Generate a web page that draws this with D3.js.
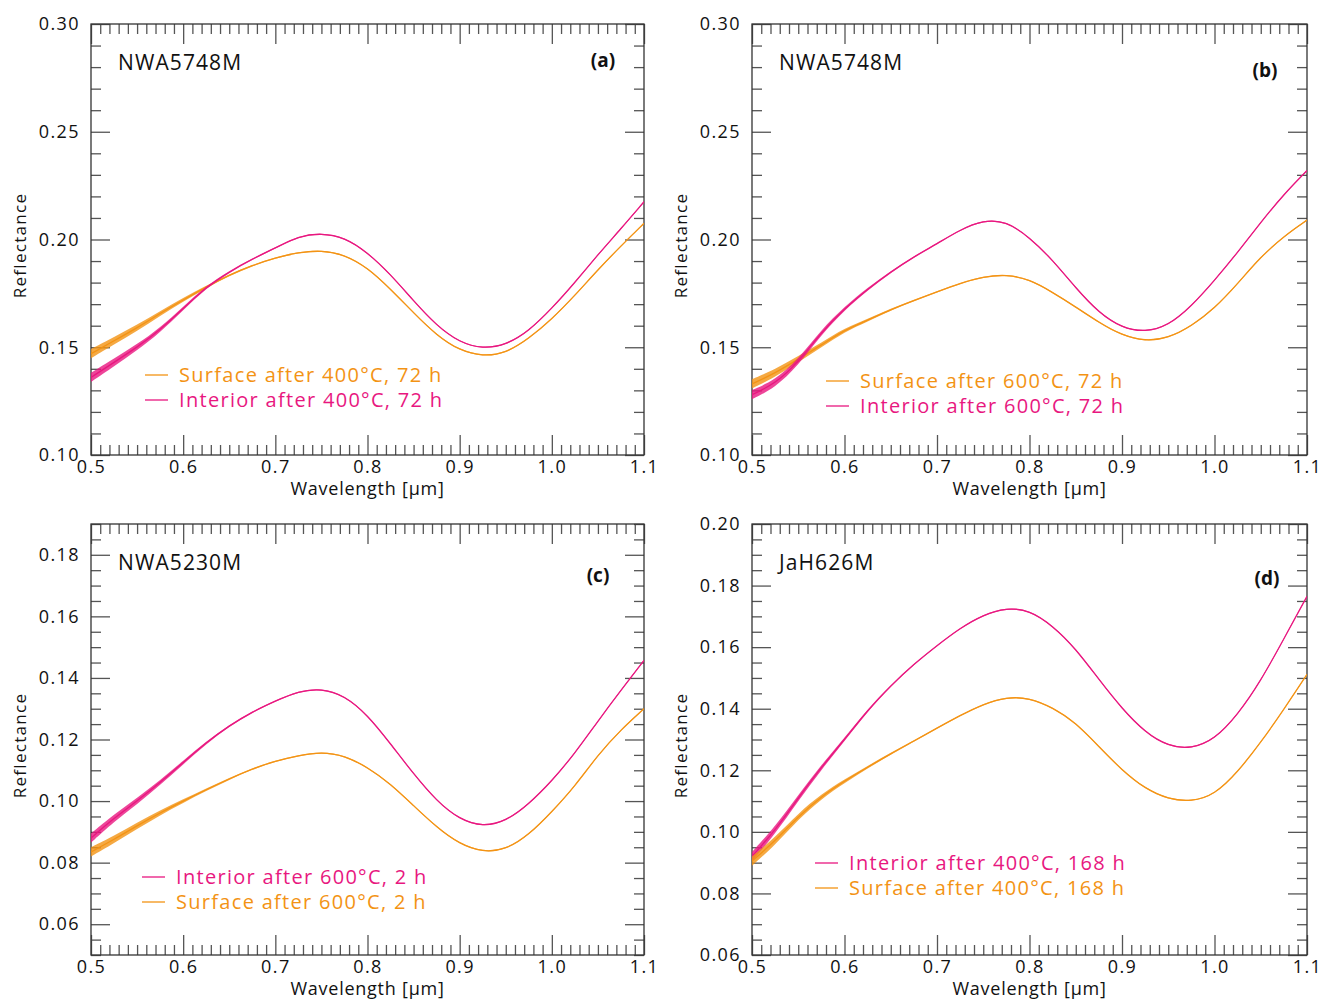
<!DOCTYPE html>
<html><head><meta charset="utf-8">
<script src="https://cdn.jsdelivr.net/npm/d3@7"></script>
<style>
body{margin:0;background:#fff;}
svg{display:block;font-family:"Open Sans",sans-serif;}
</style></head>
<body><svg id="c" width="1322" height="999"></svg>
<script>
// ---- data ----
const wavelength = [0.500,0.525,0.550,0.575,0.600,0.625,0.650,0.675,0.700,0.725,0.750,0.775,0.800,0.825,0.850,0.875,0.900,0.925,0.950,0.975,1.000,1.025,1.050,1.075,1.100];

const aSurface  = [0.147,0.153,0.159,0.1657,0.172,0.178,0.1835,0.188,0.1915,0.194,0.195,0.193,0.187,0.177,0.166,0.1555,0.1485,0.1458,0.1472,0.154,0.163,0.174,0.186,0.197,0.2075];
const aInterior = [0.136,0.143,0.150,0.158,0.168,0.178,0.185,0.191,0.196,0.2015,0.203,0.201,0.194,0.1838,0.1715,0.160,0.1522,0.1493,0.151,0.1575,0.168,0.180,0.193,0.205,0.2175];

const bSurface  = [0.133,0.138,0.1445,0.151,0.158,0.1625,0.1675,0.1717,0.1757,0.1797,0.1827,0.1838,0.1815,0.1755,0.1687,0.1615,0.1555,0.1528,0.1542,0.1598,0.168,0.1795,0.192,0.2015,0.209];
const bInterior = [0.128,0.133,0.143,0.157,0.168,0.177,0.185,0.192,0.198,0.2045,0.209,0.2085,0.201,0.1905,0.1775,0.166,0.159,0.157,0.160,0.169,0.181,0.194,0.208,0.221,0.232];

const cInterior = [0.088,0.0945,0.100,0.106,0.1125,0.119,0.1245,0.129,0.1325,0.1357,0.1366,0.1343,0.128,0.1186,0.1088,0.100,0.094,0.0917,0.0934,0.099,0.1065,0.1155,0.126,0.136,0.1457];
const cSurface  = [0.0835,0.0875,0.092,0.0962,0.100,0.1037,0.1072,0.1105,0.113,0.1148,0.116,0.1148,0.111,0.1056,0.0985,0.0915,0.086,0.0834,0.0842,0.089,0.0965,0.1048,0.115,0.1232,0.130];

const dInterior = [0.092,0.1005,0.111,0.121,0.130,0.1395,0.1475,0.1545,0.1605,0.1662,0.1705,0.1728,0.172,0.167,0.1595,0.1495,0.140,0.1323,0.1278,0.127,0.130,0.138,0.149,0.1627,0.1765];
const dSurface  = [0.0905,0.097,0.105,0.1115,0.1165,0.121,0.1254,0.1295,0.1337,0.1378,0.1415,0.1438,0.1435,0.1404,0.1355,0.1277,0.120,0.114,0.1106,0.1098,0.112,0.1194,0.129,0.1398,0.1512];

const xTickLabels = ["0.5","0.6","0.7","0.8","0.9","1.0","1.1"];
const yTicksAB = ["0.10","0.15","0.20","0.25","0.30"];
const yTicksC  = ["0.06","0.08","0.10","0.12","0.14","0.16","0.18"];
const yTicksD  = ["0.06","0.08","0.10","0.12","0.14","0.16","0.18","0.20"];

const sampleNames = ["NWA5748M","NWA5748M","NWA5230M","JaH626M"];
const panelTags = ["(a)","(b)","(c)","(d)"];
const legendA = ["Surface after 400°C, 72 h","Interior after 400°C, 72 h"];
const legendB = ["Surface after 600°C, 72 h","Interior after 600°C, 72 h"];
const legendC = ["Interior after 600°C, 2 h","Surface after 600°C, 2 h"];
const legendD = ["Interior after 400°C, 168 h","Surface after 400°C, 168 h"];

const ORANGE = "#F39314", MAGENTA = "#E8177F";

const panels = [
  {L:91, R:644, T:24, B:455, yDom:[0.10,0.30], yMajor:yTicksAB, yMinorStep:0.01,
   series:[{v:aSurface,c:ORANGE,lab:legendA[0]},{v:aInterior,c:MAGENTA,lab:legendA[1]}],
   legend:{x:145,y:375}, name:sampleNames[0], tag:panelTags[0], tagPos:[603,60]},
  {L:752, R:1307, T:24, B:455, yDom:[0.10,0.30], yMajor:yTicksAB, yMinorStep:0.01,
   series:[{v:bSurface,c:ORANGE,lab:legendB[0]},{v:bInterior,c:MAGENTA,lab:legendB[1]}],
   legend:{x:826,y:381}, name:sampleNames[1], tag:panelTags[1], tagPos:[1265,70]},
  {L:91, R:644, T:524, B:955, yDom:[0.05,0.19], yMajor:yTicksC, yMinorStep:0.005,
   series:[{v:cInterior,c:MAGENTA,lab:legendC[0]},{v:cSurface,c:ORANGE,lab:legendC[1]}],
   legend:{x:142,y:877}, name:sampleNames[2], tag:panelTags[2], tagPos:[598,575]},
  {L:752, R:1307, T:524, B:955, yDom:[0.06,0.20], yMajor:yTicksD, yMinorStep:0.005,
   series:[{v:dInterior,c:MAGENTA,lab:legendD[0]},{v:dSurface,c:ORANGE,lab:legendD[1]}],
   legend:{x:815,y:863}, name:sampleNames[3], tag:panelTags[3], tagPos:[1267,578]}
];

const svg = d3.select("#c");
const defs = svg.append("defs");
const round = v => Math.round(v*10000)/10000;
// visual half-width of the noisy short-wavelength band (style only, px)
const bandHalf = w => 0.6 + 4 * Math.pow(Math.max(0, 1 - (w - 0.5) / 0.19), 1.6);

panels.forEach((p,pi) => {
  const x = d3.scaleLinear().domain([0.5,1.1]).range([p.L,p.R]);
  const y = d3.scaleLinear().domain(p.yDom).range([p.B,p.T]);
  const g = svg.append("g");

  const cid = "cp"+pi;
  defs.append("clipPath").attr("id",cid).append("rect").attr("x",p.L).attr("y",p.T).attr("width",p.R-p.L).attr("height",p.B-p.T);

  const xMajor = xTickLabels.map(Number);
  const xMinor = d3.range(50,111,1).map(v=>round(v/100)).filter(v=>!xMajor.some(m=>Math.abs(m-v)<1e-6));
  const yMaj = p.yMajor.map(Number);
  const nMin = Math.round((p.yDom[1]-p.yDom[0])/p.yMinorStep);
  const yMinor = d3.range(0,nMin+1).map(i=>round(p.yDom[0]+i*p.yMinorStep)).filter(v=>!yMaj.some(m=>Math.abs(m-v)<1e-6));

  function axisStyle(sel){
    sel.select(".domain").remove();
    sel.selectAll(".tick line").attr("stroke","#555").attr("stroke-width",1.3);
    sel.selectAll(".tick text").attr("fill","#111").style("font-size","18px")
      .style("letter-spacing","1.4px").style("font-family","'Open Sans',sans-serif");
  }
  // bottom
  g.append("g").attr("transform",`translate(0,${p.B})`)
    .call(d3.axisBottom(x).tickValues(xMajor).tickSize(-20).tickPadding(5).tickFormat((d,i)=>xTickLabels[i])).call(axisStyle);
  g.append("g").attr("transform",`translate(0,${p.B})`)
    .call(d3.axisBottom(x).tickValues(xMinor).tickSize(-10).tickFormat("")).call(axisStyle);
  // top
  g.append("g").attr("transform",`translate(0,${p.T})`)
    .call(d3.axisTop(x).tickValues(xMajor).tickSize(-20).tickFormat("")).call(axisStyle);
  g.append("g").attr("transform",`translate(0,${p.T})`)
    .call(d3.axisTop(x).tickValues(xMinor).tickSize(-10).tickFormat("")).call(axisStyle);
  // left
  g.append("g").attr("transform",`translate(${p.L},0)`)
    .call(d3.axisLeft(y).tickValues(yMaj).tickSize(-19).tickPadding(11).tickFormat((d,i)=>p.yMajor[i])).call(axisStyle);
  g.append("g").attr("transform",`translate(${p.L},0)`)
    .call(d3.axisLeft(y).tickValues(yMinor).tickSize(-10).tickFormat("")).call(axisStyle);
  // right
  g.append("g").attr("transform",`translate(${p.R},0)`)
    .call(d3.axisRight(y).tickValues(yMaj).tickSize(-19).tickFormat("")).call(axisStyle);
  g.append("g").attr("transform",`translate(${p.R},0)`)
    .call(d3.axisRight(y).tickValues(yMinor).tickSize(-10).tickFormat("")).call(axisStyle);

  // frame
  g.append("rect").attr("x",p.L).attr("y",p.T).attr("width",p.R-p.L).attr("height",p.B-p.T)
    .attr("fill","none").attr("stroke","#333").attr("stroke-width",1.3);

  // curves
  const line = d3.line().x((d,i)=>x(wavelength[i])).y(d=>y(d)).curve(d3.curveBasis);
  const band = d3.area().x((d,i)=>x(wavelength[i]))
    .y0((d,i)=>y(d)+bandHalf(wavelength[i])).y1((d,i)=>y(d)-bandHalf(wavelength[i])).curve(d3.curveBasis);
  const cg = g.append("g").attr("clip-path",`url(#${cid})`);
  p.series.forEach(s=>{
    cg.append("path").datum(s.v).attr("d",band).attr("fill",s.c).attr("fill-opacity",0.8).attr("stroke","none");
    cg.append("path").datum(s.v).attr("d",line).attr("fill","none").attr("stroke",s.c).attr("stroke-width",1.3);
  });

  // legend
  p.series.forEach((s,i)=>{
    const ly = p.legend.y + i*25;
    g.append("line").attr("x1",p.legend.x).attr("x2",p.legend.x+23).attr("y1",ly).attr("y2",ly)
      .attr("stroke",s.c).attr("stroke-width",1.3);
    g.append("text").attr("x",p.legend.x+34).attr("y",ly).attr("dy","0.35em")
      .attr("fill",s.c).style("font-size","20px").style("letter-spacing","1.3px").text(s.lab);
  });

  // sample name and tag
  g.append("text").attr("x",p.L+27).attr("y",p.T+39).attr("dy","0.35em").style("font-size","21px")
    .style("letter-spacing","1.1px").attr("fill","#111").text(p.name);
  g.append("text").attr("x",p.tagPos[0]).attr("y",p.tagPos[1]).attr("dy","0.35em").attr("text-anchor","middle")
    .style("font-size","19px").style("font-weight","bold").attr("fill","#111").text(p.tag);

  // axis titles
  g.append("text").attr("x",(p.L+p.R)/2).attr("y",p.B+40).attr("text-anchor","middle")
    .style("font-size","18px").style("letter-spacing","0.75px").attr("fill","#111").text("Wavelength [µm]");
  g.append("text").attr("transform",`translate(${p.L-65},${(p.T+p.B)/2+6}) rotate(-90)`).attr("text-anchor","middle")
    .style("font-size","17px").style("letter-spacing","1.3px").attr("fill","#111").text("Reflectance");
});
</script></body></html>
